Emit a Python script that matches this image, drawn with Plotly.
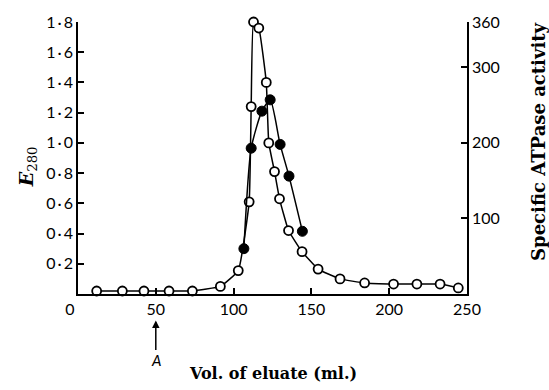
import plotly.graph_objects as go

# E280 (open circles, left axis)
vol_e = [12, 28.5, 42.4, 58.5, 73.5, 91.5, 103, 110, 111.3, 112.8, 116.2, 121, 122.6,
         126.3, 129.5, 135.3, 144, 154.3, 168.4, 184.2, 202.8, 217.8, 232.7, 244.4]
e280 = [0.02, 0.02, 0.02, 0.02, 0.02, 0.05, 0.155, 0.61, 1.24, 1.80, 1.76, 1.40, 1.00,
        0.81, 0.63, 0.42, 0.28, 0.165, 0.10, 0.073, 0.066, 0.066, 0.066, 0.04]

# Specific ATPase activity (filled circles, right axis)
vol_a = [106.6, 111.3, 118.2, 123.5, 129.9, 135.6, 144.2]
atpase = [60, 193, 242, 257, 198, 156, 83]

x_ticks = [0, 50, 100, 150, 200, 250]
x_ticktext = ["0\u00a0\u00a0\u00a0\u00a0", "50", "100", "150", "200", "250"]
y_ticks = [0.2, 0.4, 0.6, 0.8, 1.0, 1.2, 1.4, 1.6, 1.8]
y_ticktext = ["0\u2009·\u20092", "0\u2009·\u20094", "0\u2009·\u20096", "0\u2009·\u20098",
              "1\u2009·\u20090", "1\u2009·\u20092", "1\u2009·\u20094", "1\u2009·\u20096",
              "1\u2009·\u20098"]
y2_ticks = [100, 200, 300, 360]
y2_ticktext = ["100", "200", "300", "360"]

tickfont = dict(family="Lato, Open Sans, sans-serif", size=16, color="black")
serif = "DejaVu Serif, Liberation Serif, serif"

fig = go.Figure()
fig.add_trace(go.Scatter(
    x=vol_e, y=e280, mode="lines+markers", yaxis="y",
    line=dict(color="black", width=1.5, shape="spline", smoothing=0.35),
    marker=dict(symbol="circle", size=9, color="white", line=dict(color="black", width=1.8)),
    showlegend=False, cliponaxis=False))
fig.add_trace(go.Scatter(
    x=vol_a, y=atpase, mode="lines+markers", yaxis="y2",
    line=dict(color="black", width=1.5, shape="spline", smoothing=0.6),
    marker=dict(symbol="circle", size=10, color="black", line=dict(color="black", width=1)),
    showlegend=False, cliponaxis=False))

axis_common = dict(showgrid=False, zeroline=False, showline=True, linecolor="black",
                   linewidth=1.5, ticks="inside", ticklen=6, tickwidth=1.5,
                   tickcolor="black", tickfont=tickfont)

fig.update_layout(
    width=549, height=390,
    margin=dict(l=78, r=82, t=15, b=96),
    plot_bgcolor="white", paper_bgcolor="white",
    xaxis=dict(range=[0, 250], tickvals=x_ticks, ticktext=x_ticktext, **axis_common),
    yaxis=dict(range=[0, 1.8], tickvals=y_ticks, ticktext=y_ticktext, **axis_common),
    yaxis2=dict(range=[0, 360], tickvals=y2_ticks, ticktext=y2_ticktext, overlaying="y",
                side="right", **axis_common),
    annotations=[
        dict(text="<b>Vol. of eluate (ml.)</b>", xref="paper", yref="paper", x=0.5, y=-0.294,
             xanchor="center", yanchor="middle", showarrow=False,
             font=dict(family=serif, size=16, color="black")),
        dict(text="<b><i>E</i></b><sub>280</sub>", xref="paper", yref="paper",
             x=-0.131, y=0.466, xanchor="center", yanchor="middle", showarrow=False,
             textangle=-90, font=dict(family=serif, size=19, color="black")),
        dict(text="<b>Specific ATPase activity</b>", xref="paper", yref="paper",
             x=1.185, y=0.559, xanchor="center", yanchor="middle", showarrow=False,
             textangle=-90, font=dict(family=serif, size=18, color="black")),
        dict(text="<i>A</i>", xref="x", yref="paper", x=50, y=-0.097,
             showarrow=True, ax=0, ay=40, arrowhead=2, arrowsize=1, arrowwidth=1.5,
             arrowcolor="black", font=dict(family="Lato, sans-serif", size=15, color="black")),
    ],
)

fig.write_html("out.html")
